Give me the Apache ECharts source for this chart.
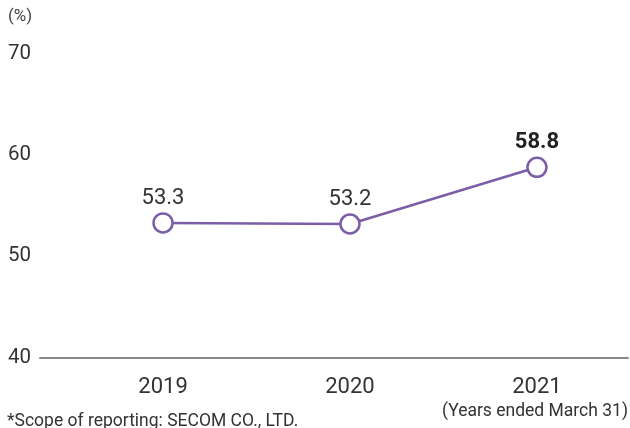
<!DOCTYPE html>
<html><head><meta charset="utf-8">
<script src="https://cdn.jsdelivr.net/npm/echarts@6/dist/echarts.min.js"></script>
<style>html,body{margin:0;padding:0;background:#fff}#c{width:630px;height:428px}</style>
</head><body><div id="c"></div>
<script>
var categories = ['2019', '2020', '2021'];
var values = [53.3, 53.2, 58.8];
var yTicks = [40, 50, 60, 70];
var boldIndex = 2;

var font = 'Roboto';
var chart = echarts.init(document.getElementById('c'), null, {renderer: 'canvas'});
chart.setOption({
  animation: false,
  textStyle: {fontFamily: font},
  title: [
    {text: '(%)', left: 8, top: 8, padding: 0, textStyle: {fontSize: 17, fontWeight: 'normal', color: '#444', fontFamily: font}},
    {text: '*Scope of reporting: SECOM CO., LTD.', left: 7, top: 413, padding: 0, textStyle: {fontSize: 17.5, fontWeight: 'normal', color: '#333', fontFamily: font}},
    {text: '(Years ended March 31)', right: 2, top: 403, padding: 0, textStyle: {fontSize: 17.5, fontWeight: 'normal', color: '#333', fontFamily: font}}
  ],
  grid: {left: 40, right: 2, top: 54, bottom: 70.5},
  xAxis: {
    type: 'value',
    min: -0.658, max: 2.487,
    axisLine: {show: true, lineStyle: {color: '#888', width: 2}},
    axisTick: {show: false},
    splitLine: {show: false},
    axisLabel: {
      customValues: categories.map(function (c, i) { return i; }),
      formatter: function (v) { return categories[Math.round(v)] || ''; },
      fontSize: 22, color: '#333', margin: 19, fontFamily: font
    }
  },
  yAxis: {
    type: 'value',
    min: yTicks[0], max: yTicks[yTicks.length - 1], interval: 10,
    axisLine: {show: false},
    axisTick: {show: false},
    splitLine: {show: false},
    axisLabel: {align: 'left', margin: 32, fontSize: 20.5, color: '#333', fontFamily: font}
  },
  series: [{
    type: 'line',
    data: values.map(function (v, i) {
      return i === boldIndex ? {value: [i, v], label: {fontWeight: 'bold', color: '#222'}} : {value: [i, v]};
    }),
    lineStyle: {color: '#7b5ea7', width: 2.5},
    itemStyle: {color: '#fff', borderColor: '#7b5ea7', borderWidth: 2.5},
    symbol: 'circle', symbolSize: 19,
    label: {
      show: true, position: 'top', distance: 3,
      fontSize: 22, color: '#333', fontFamily: font,
      formatter: function (p) { return p.value[1].toFixed(1); }
    }
  }]
});
</script></body></html>
